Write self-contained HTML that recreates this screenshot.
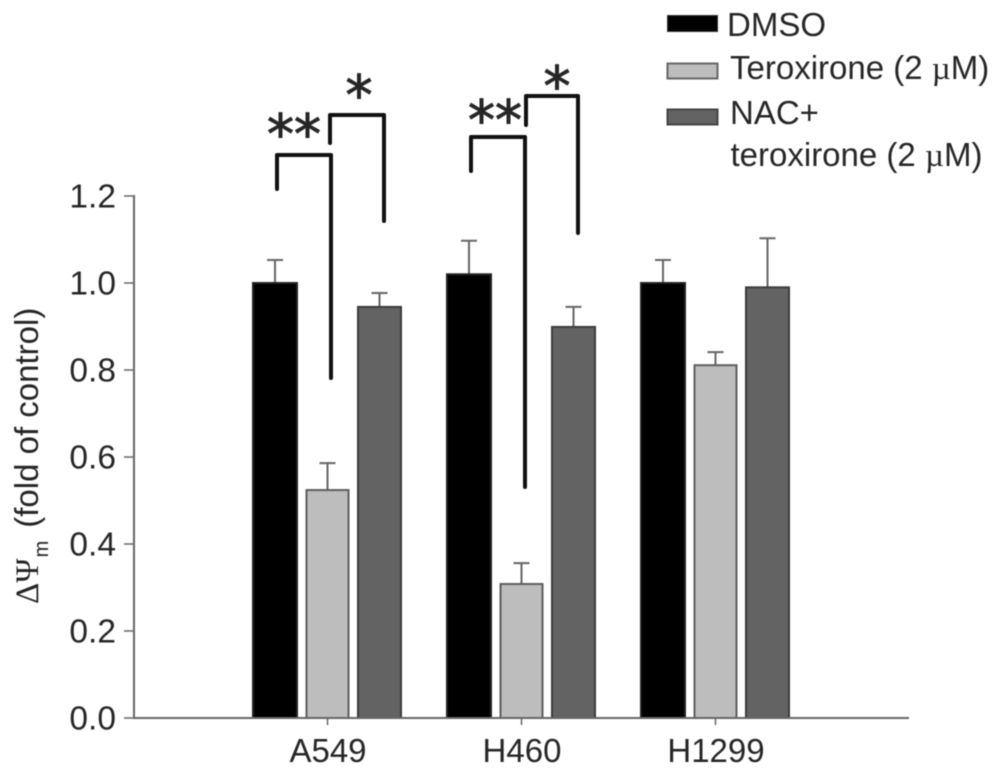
<!DOCTYPE html>
<html>
<head>
<meta charset="utf-8">
<title>Mitochondrial membrane potential chart</title>
<style>
html,body{margin:0;padding:0;background:#fff;width:1001px;height:774px;overflow:hidden}
svg{display:block;filter:blur(0.5px)}
text{font-family:"Liberation Sans",sans-serif;fill:#262626}
</style>
</head>
<body>
<svg id="chart" xmlns="http://www.w3.org/2000/svg" width="1001" height="774" viewBox="0 0 1001 774">
  <g>
    <rect x="667.5" y="15.5" width="50" height="16" fill="#000" stroke="#333"/>
    <text x="727" y="36" font-size="33">DMSO</text>
    <rect x="667.5" y="63.5" width="50" height="15" fill="#bdbdbd" stroke="#666" stroke-width="2"/>
    <text x="730" y="79" font-size="33">Teroxirone (2 <tspan font-family="'Liberation Serif',serif">µ</tspan>M)</text>
    <rect x="667.5" y="109.5" width="50" height="15" fill="#636363" stroke="#444" stroke-width="2"/>
    <text x="730" y="124" font-size="33">NAC+</text>
    <text x="730.5" y="166" font-size="33">teroxirone (2 <tspan font-family="'Liberation Serif',serif">µ</tspan>M)</text>
  </g>
  <text transform="translate(38,604) rotate(-90)" font-size="33"><tspan font-family="'Liberation Serif',serif">ΔΨ</tspan><tspan font-size="20" dx="1" dy="10">m</tspan><tspan dx="13" dy="-10">(fold of control)</tspan></text>
  <g id="bars"></g>
  <g id="axes"></g>
  <g fill="none" stroke="#111" stroke-width="4" stroke-linejoin="round" stroke-linecap="round">
    <path d="M277 189V155H331V378"/>
    <path d="M330 143V115H384V221"/>
    <path d="M471 171V137H525V487"/>
    <path d="M526 125V96H578V233"/>
  </g>
  <g text-anchor="middle">
    <text x="294" y="153" font-size="54" stroke="#262626" stroke-width="1" style="font-family:'DejaVu Sans',sans-serif">**</text>
    <text x="359" y="114" font-size="54" stroke="#262626" stroke-width="1" style="font-family:'DejaVu Sans',sans-serif">*</text>
    <text x="495" y="139" font-size="54" stroke="#262626" stroke-width="1" style="font-family:'DejaVu Sans',sans-serif">**</text>
    <text x="557" y="105" font-size="54" stroke="#262626" stroke-width="1" style="font-family:'DejaVu Sans',sans-serif">*</text>
  </g>
</svg>
<script>
const categories = ['A549', 'H460', 'H1299'];
const seriesNames = ['dmso', 'teroxirone', 'nac-teroxirone'];
const dmsoValues = [1.0, 1.02, 1.0];
const dmsoErrors = [0.053, 0.077, 0.053];
const teroxironeValues = [0.524, 0.308, 0.811];
const teroxironeErrors = [0.062, 0.048, 0.03];
const nacValues = [0.945, 0.899, 0.99];
const nacErrors = [0.032, 0.046, 0.113];
const yTicks = ['0.0', '0.2', '0.4', '0.6', '0.8', '1.0', '1.2'];

const NS = 'http://www.w3.org/2000/svg';
const yScale = v => 718 - v * 435;
const xScale = i => 327.5 + i * 194;
const seriesOffset = [-52.5, 0, 52];
const seriesWidth = [44, 42, 43];
const seriesFill = ['#000000', '#bdbdbd', '#636363'];
const seriesStroke = ['#222222', '#5e5e5e', '#3c3c3c'];
const seriesValues = [dmsoValues, teroxironeValues, nacValues];
const seriesErrors = [dmsoErrors, teroxironeErrors, nacErrors];

function make(tag, attrs, parent) {
  const el = document.createElementNS(NS, tag);
  for (const k in attrs) el.setAttribute(k, attrs[k]);
  parent.appendChild(el);
  return el;
}

const barsG = document.getElementById('bars');
categories.forEach((cat, i) => {
  seriesValues.forEach((vals, s) => {
    const cx = xScale(i) + seriesOffset[s];
    const w = seriesWidth[s];
    const top = yScale(vals[i]);
    const errTop = yScale(vals[i] + seriesErrors[s][i]);
    const stem = make('path', {d: `M${cx} ${top}V${errTop}M${cx - 8} ${errTop}H${cx + 8}`, fill: 'none', stroke: '#666', 'stroke-width': 2}, barsG);
    
    
    const bar = make('rect', {x: cx - w / 2, y: top, width: w, height: yScale(0) - top, fill: seriesFill[s], stroke: seriesStroke[s], 'stroke-width': 2}, barsG);
    
    
  });
});

const axesG = document.getElementById('axes');
const yAxis = make('line', {x1: 134, x2: 134, y1: yScale(1.2) - 1, y2: yScale(0) + 1, stroke: '#666', 'stroke-width': 2}, axesG);


const xAxis = make('line', {x1: 133, x2: 909, y1: yScale(0), y2: yScale(0), stroke: '#666', 'stroke-width': 2}, axesG);



yTicks.forEach(t => {
  const y = yScale(parseFloat(t));
  const tick = make('line', {x1: 124, x2: 134, y1: y, y2: y, stroke: '#666', 'stroke-width': 1.5}, axesG);
  
  
  const label = make('text', {x: 116, y: y + 11.5, 'text-anchor': 'end', 'font-size': 33.5}, axesG);
  label.textContent = t;
  
  
});

categories.forEach((cat, i) => {
  const x = xScale(i);
  const tick = make('line', {x1: x, x2: x, y1: yScale(0), y2: yScale(0) + 7, stroke: '#666', 'stroke-width': 1.5}, axesG);
  
  
  const label = make('text', {x: x + 0.5, y: 762, 'text-anchor': 'middle', 'font-size': 33}, axesG);
  label.textContent = cat;
  
  
});
</script>
</body>
</html>
